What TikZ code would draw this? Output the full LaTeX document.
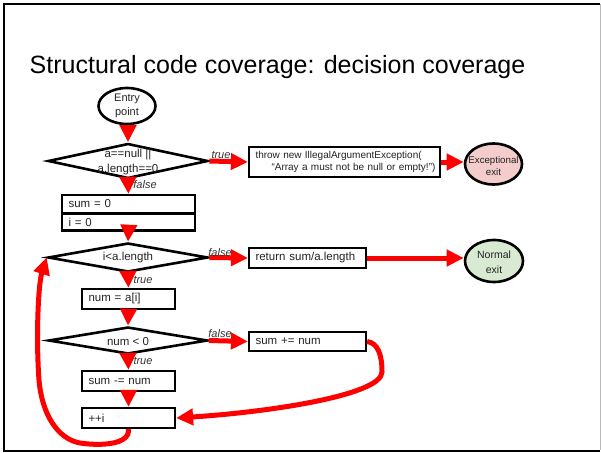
\documentclass[tikz,border=0pt]{standalone}
\usepackage{fontspec}
\setmainfont{Liberation Sans}
\usetikzlibrary{shapes.geometric,arrows.meta}

\definecolor{txt}{HTML}{222222}
\definecolor{lbl}{HTML}{333333}
\definecolor{excfill}{HTML}{F4CCCC}
\definecolor{okfill}{HTML}{D9EAD3}

\tikzset{
  stmt/.style={draw=black, line width=2.2pt, rectangle, inner xsep=6.5pt, inner ysep=0pt,
    align=left, text=txt, font=\fontsize{11.5}{14}\selectfont},
  decision/.style={draw=black, line width=2.6pt, diamond, inner sep=0pt},
  terminal/.style={draw=black, line width=2.6pt, ellipse, inner sep=0pt, text=txt, align=center},
  flow/.style={draw=red, line width=5pt, -{Triangle[length=17pt,width=16pt]}},
  branch/.style={text=lbl, font=\fontsize{11}{13}\selectfont\itshape, inner sep=0pt},
  dtext/.style={text=txt, align=center, inner sep=0pt, font=\fontsize{11.5}{15}\selectfont},
  ttext/.style={text=txt, align=center, inner sep=0pt},
}

\begin{document}
\begin{tikzpicture}[x=1pt,y=-1pt]
\useasboundingbox (0,0) rectangle (601,452);

% slide frame
\draw[gray!55, line width=1pt] (600,4) -- (600,450);
\draw[black, line width=2pt] (600,450.5) -- (4,450.5) -- (4,4) -- (600,4);

% title
\node[anchor=base west, inner sep=0pt, font=\fontsize{25}{30}\selectfont] (title) at (29.5,73)
  {Structural code coverage: decision coverage};

% entry and exits
\node[terminal, minimum width=57pt, minimum height=36pt] (entry) at (127,106) {};
\node[ttext, font=\fontsize{11}{14}\selectfont] (entrytxt) at (127,106) {Entry\\point};

\node[terminal, fill=excfill, minimum width=57pt, minimum height=41pt] (excexit) at (493.5,164) {};
\node[ttext, font=\fontsize{9.7}{12}\selectfont] (exctxt) at (493.5,166) {Exceptional\\exit};

\node[terminal, fill=okfill, minimum width=58pt, minimum height=42pt] (okexit) at (494,261) {};
\node[ttext, font=\fontsize{10.5}{15}\selectfont] (oktxt) at (494,262.5) {Normal\\exit};

% decisions
\node[decision, minimum width=160pt, minimum height=35pt] (d1) at (128,161) {};
\node[decision, minimum width=160pt, minimum height=29pt] (d2) at (128,257.5) {};
\node[decision, minimum width=159pt, minimum height=27pt] (d3) at (128,340.5) {};

% statements
\node[stmt, text width=120pt, minimum height=18pt] (sum0) at (128.5,204) {sum = 0};
\node[stmt, text width=120pt, minimum height=17pt] (i0) at (128.5,222) {i = 0};
\node[stmt, text width=178pt, minimum height=30pt, font=\fontsize{10}{11.5}\selectfont] (throw) at (344.5,162)
  {\mbox{throw new IllegalArgumentException(}\\\mbox{\hspace*{16pt}“Array a must not be null or empty!”)}};
\node[stmt, text width=104pt, minimum height=20pt] (ret) at (307.5,258) {return sum/a.length};
\node[stmt, text width=80pt, minimum height=20pt] (num) at (128.5,299) {num = a[i]};
\node[stmt, text width=104pt, minimum height=19pt] (plus) at (307.5,341.5) {sum += num};
\node[stmt, text width=80pt, minimum height=20pt] (minus) at (128.5,381) {sum -= num};
\node[stmt, text width=80pt, minimum height=20pt] (inc) at (128.5,418) {++i};

% control flow
\draw[flow] (entry.south -| d1.north) -- (d1.north);
\draw[flow] (d1.east) -- (throw.west);
\draw[flow] (throw.east) -- (excexit.west |- throw.east);
\draw[flow] (d1.south) -- (sum0.north);
\draw[flow] (i0.south) -- (d2.north);
\draw[flow] (d2.east) -- (ret.west);
\draw[flow] (ret.east) -- (okexit.west |- ret.east);
\draw[flow] (d2.south) -- (num.north);
\draw[flow] (num.south) -- (d3.north);
\draw[flow] (d3.east) -- (plus.west);
\draw[flow] (d3.south) -- (minus.north);
\draw[flow] (minus.south) -- (inc.north);
\draw[flow] (plus.east) .. controls (378,343) and (382,355) .. (382,372)
  .. controls (382,395) and (270,412) .. (inc.east);
\draw[flow] (inc.south) .. controls (130,445) and (100,446) .. (80,443)
  .. controls (58,439) and (42,415) .. (39,380)
  .. controls (36,340) and (38,285) .. (d2.west);

% decision texts
\node[dtext] (d1txt) at (128,162.5) {a==null ||\\a.length==0};
\node[dtext] (d2txt) at (128,258) {i<a.length};
\node[dtext] (d3txt) at (128,341.5) {num < 0};

% branch labels
\node[branch] (t1) at (221,155) {true};
\node[branch] (f1) at (145,185) {false};
\node[branch] (f2) at (220,252.5) {false};
\node[branch] (t2) at (143,280) {true};
\node[branch] (f3) at (220,334) {false};
\node[branch] (t3) at (143,361) {true};
\end{tikzpicture}
\end{document}
